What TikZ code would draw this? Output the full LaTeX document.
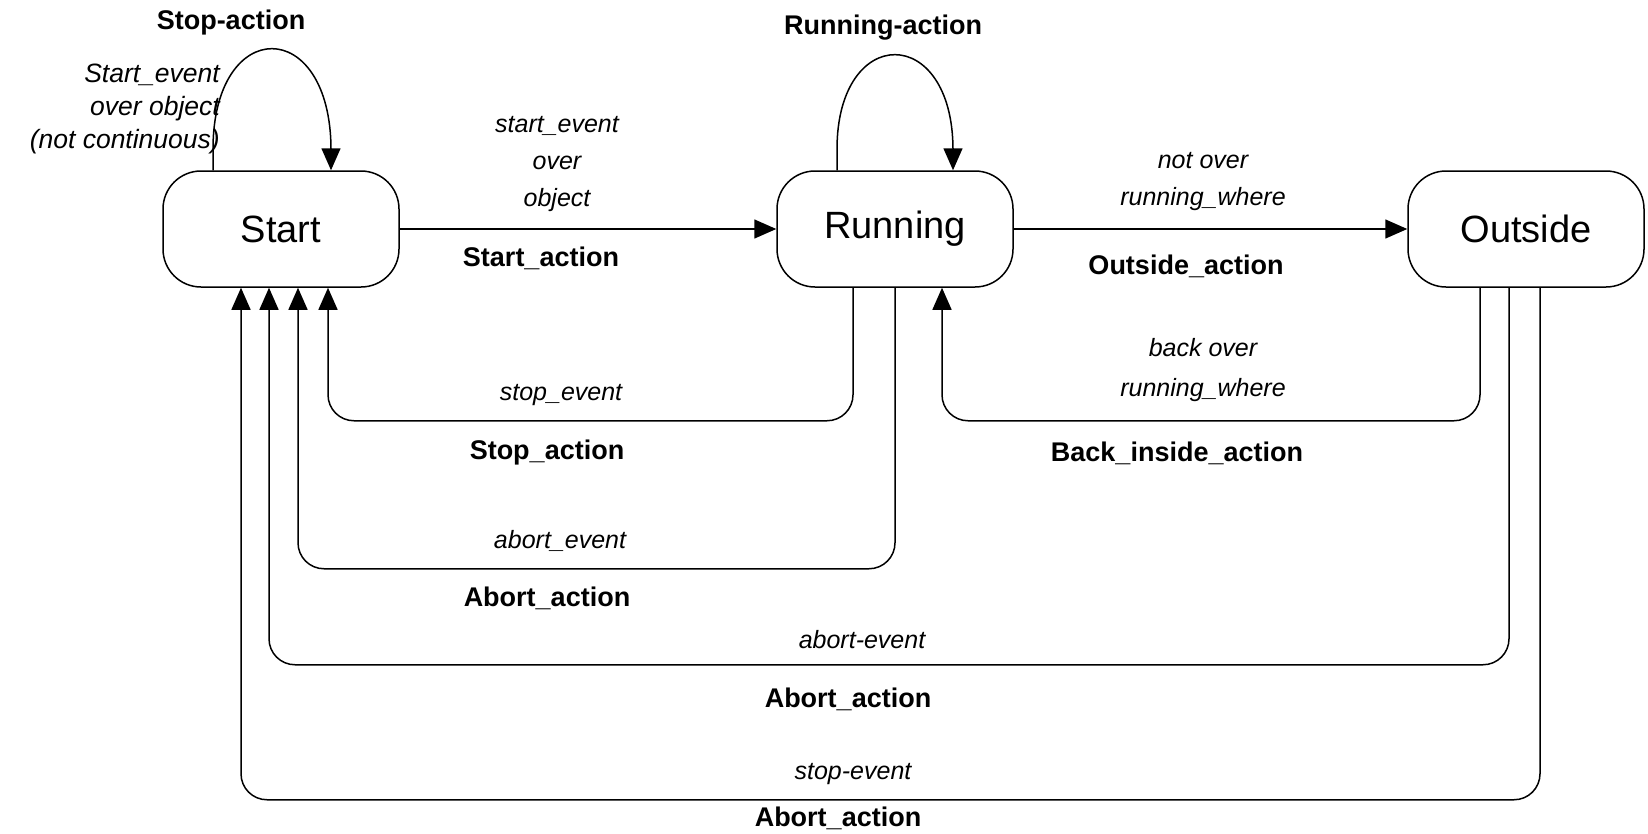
\documentclass[tikz,border=0pt]{standalone}
\usepackage{fontspec}
\setmainfont{Liberation Sans}
\usetikzlibrary{arrows.meta}
\tikzset{
  state/.style={draw, line width=1.5pt, rounded corners=38pt, minimum width=236pt, minimum height=116pt, inner sep=0pt, font=\fontsize{38}{44}\selectfont},
  conn/.style={line width=1.5pt, -{Triangle[length=22pt,width=19pt]}},
  ev/.style={font=\fontsize{25}{37}\selectfont\itshape, align=center, inner sep=0pt},
  act/.style={font=\fontsize{27}{32}\selectfont\bfseries, inner sep=0pt},
}
\begin{document}
\begin{tikzpicture}[x=1pt,y=-1pt]
\useasboundingbox[fill=white] (0,0) rectangle (1648,833);
\node[state] (start) at (281,229) {Start};
\node[state] (run) at (895,229) {Running};
\node[state] (out) at (1526,229) {Outside};

% self loops
\draw[conn] ([xshift=-68pt]start.north) -- ++(0,-21) .. controls (213,15) and (331,15) .. (331,150) -- ([xshift=50pt]start.north);
\draw[conn] ([xshift=-58pt]run.north) -- ++(0,-21) .. controls (837,23) and (953,23) .. (953,150) -- ([xshift=58pt]run.north);

% straight
\draw[conn] (start.east) -- (run.west);
\draw[conn] (run.east) -- (out.west);

% bottom connectors
\draw[conn, rounded corners=26pt] ([xshift=-42pt]run.south) -- ++(0,133) -| ([xshift=47pt]start.south);
\draw[conn, rounded corners=26pt] (run.south) -- ++(0,281) -| ([xshift=17pt]start.south);
\draw[conn, rounded corners=26pt] ([xshift=-46pt]out.south) -- ++(0,133) -| ([xshift=47pt]run.south);
\draw[conn, rounded corners=26pt] ([xshift=-17pt]out.south) -- ++(0,377) -| ([xshift=-12pt]start.south);
\draw[conn, rounded corners=26pt] ([xshift=14pt]out.south) -- ++(0,512) -| ([xshift=-40pt]start.south);

% labels
\node[act] (l1) at (231,23) {Stop-action};
\node[ev, align=right, anchor=east, font=\fontsize{26.5}{33}\selectfont\itshape] (l2) at (220,109) {Start\_event\\over object\\(not continuous)};
\node[ev] (l3) at (557,164) {start\_event\\over\\object};
\node[act] (l4) at (541,258) {Start\_action};
\node[act] (l5) at (883,28) {Running-action};
\node[ev] (l6) at (1203,182) {not over\\running\_where};
\node[act] (l7) at (1186,266) {Outside\_action};
\node[ev] (l8) at (561,395) {stop\_event};
\node[act] (l9) at (547,453) {Stop\_action};
\node[ev] (l10) at (560,541) {abort\_event};
\node[act] (l11) at (547,598) {Abort\_action};
\node[ev, font=\fontsize{25}{40}\selectfont\itshape] (l12) at (1203,370) {back over\\running\_where};
\node[act] (l13) at (1177,453) {Back\_inside\_action};
\node[ev] (l14) at (862,640) {abort-event};
\node[act] (l15) at (848,699) {Abort\_action};
\node[ev] (l16) at (853,774) {stop-event};
\node[act] (l17) at (838,818) {Abort\_action};
\end{tikzpicture}
\end{document}
